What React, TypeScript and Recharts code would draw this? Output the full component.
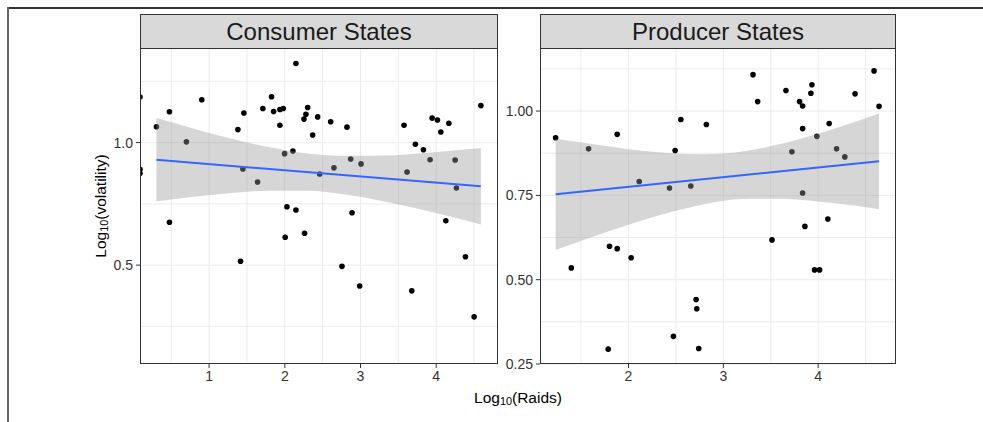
import {
  Area,
  CartesianGrid,
  ComposedChart,
  Line,
  Scatter,
  XAxis,
  YAxis,
} from 'recharts'

// Consumer States panel
const consumerX = [
  0.087, 0.087, 0.087, 0.304, 0.476, 0.7, 0.903, 1.38, 1.459, 1.446, 1.64, 1.71, 1.825, 1.852,
  1.935, 1.979, 1.935, 1.997, 2.107, 2.147, 2.253, 2.279, 2.302, 2.368, 2.434, 2.46, 2.606, 2.649,
  2.821, 2.87, 3.007, 3.575, 3.615, 3.725, 3.831, 3.919, 3.946, 4.016, 4.061, 4.167, 4.25, 4.267,
  4.59, 2.028, 2.147, 0.476, 1.415, 2.005, 2.261, 2.755, 2.888, 2.989, 3.677, 4.127, 4.386, 4.501,
]
const consumerY = [
  1.186, 0.891, 0.875, 1.065, 1.126, 1.003, 1.175, 1.053, 1.121, 0.892, 0.839, 1.139, 1.187, 1.127,
  1.135, 1.139, 1.071, 0.955, 0.966, 1.323, 1.096, 1.116, 1.143, 1.031, 1.105, 0.872, 1.085, 0.897,
  1.063, 0.933, 0.913, 1.071, 0.88, 0.993, 0.971, 0.93, 1.1, 1.092, 1.043, 1.079, 0.929, 0.815,
  1.151, 0.738, 0.725, 0.675, 0.516, 0.614, 0.63, 0.495, 0.714, 0.415, 0.395, 0.681, 0.534, 0.289,
]
const consumerFitX = [0.304, 4.59]
const consumerFitY = [0.93, 0.822]
const consumerBandX = [0.304, 0.8, 1.3, 1.8, 2.3, 2.8, 3.3, 3.8, 4.3, 4.59]
const consumerBandHi = [1.1, 1.057, 1.016, 0.981, 0.956, 0.946, 0.947, 0.957, 0.97, 0.978]
const consumerBandLo = [0.76, 0.779, 0.794, 0.804, 0.804, 0.788, 0.761, 0.727, 0.689, 0.666]

// Producer States panel
const producerX = [
  1.232, 1.579, 1.881, 2.113, 2.432, 2.492, 2.552, 2.657, 2.821, 3.313, 3.362, 3.66, 3.723, 3.804,
  3.836, 3.836, 3.836, 3.923, 3.934, 3.986, 4.116, 4.194, 4.281, 4.389, 4.589, 4.642, 1.397, 1.8,
  1.881, 2.028, 1.786, 2.474, 2.713, 2.72, 2.741, 3.513, 3.86, 4.102, 3.962, 4.015,
]
const producerY = [
  0.921, 0.888, 0.931, 0.791, 0.772, 0.883, 0.975, 0.778, 0.96, 1.108, 1.028, 1.061, 0.879, 1.028,
  1.015, 0.948, 0.757, 1.053, 1.078, 0.925, 0.963, 0.888, 0.864, 1.051, 1.119, 1.014, 0.535, 0.599,
  0.592, 0.565, 0.294, 0.332, 0.441, 0.414, 0.296, 0.618, 0.658, 0.68, 0.529, 0.529,
]
const producerFitX = [1.232, 4.642]
const producerFitY = [0.753, 0.851]
const producerBandX = [1.232, 1.6, 2.0, 2.4, 2.8, 3.2, 3.6, 4.0, 4.4, 4.642]
const producerBandHi = [0.918, 0.903, 0.887, 0.876, 0.872, 0.88, 0.902, 0.933, 0.969, 0.993]
const producerBandLo = [0.588, 0.625, 0.663, 0.697, 0.724, 0.739, 0.74, 0.732, 0.719, 0.709]

const consumerXTicks = [1, 2, 3, 4]
const consumerYTicks = [0.5, 1.0]
const consumerXGrid = [0.5, 1, 1.5, 2, 2.5, 3, 3.5, 4, 4.5]
const consumerYGrid = [0.25, 0.5, 0.75, 1.0, 1.25]
const producerXTicks = [2, 3, 4]
const producerYTicks = [0.25, 0.5, 0.75, 1.0]
const producerXGrid = [1.5, 2, 2.5, 3, 3.5, 4, 4.5]
const producerYGrid = [0.25, 0.375, 0.5, 0.625, 0.75, 0.875, 1.0, 1.125]

const FONT = '"Liberation Sans", Arial, Helvetica, sans-serif'

type PanelProps = {
  left: number
  width: number
  marginLeft: number
  marginRight: number
  xs: number[]
  ys: number[]
  fitX: number[]
  fitY: number[]
  bandX: number[]
  bandHi: number[]
  bandLo: number[]
  xDomain: [number, number]
  yDomain: [number, number]
  xTicks: number[]
  yTicks: number[]
  xGrid: number[]
  yGrid: number[]
  yFormat: (v: number) => string
}

function Dot(props: any) {
  if (props.cx == null || props.cy == null) return null
  return <circle cx={props.cx} cy={props.cy} r={2.8} fill="#000" />
}

function Panel(p: PanelProps) {
  const points = p.xs.map((x, i) => ({ x, y: p.ys[i] }))
  const fit = p.fitX.map((x, i) => ({ x, y: p.fitY[i] }))
  const band = p.bandX.map((x, i) => ({ x, band: [p.bandLo[i], p.bandHi[i]] }))
  return (
    <div style={{ position: 'absolute', left: p.left, top: 0 }}>
      <ComposedChart
        width={p.width}
        height={422}
        margin={{ top: 49, right: p.marginRight, bottom: 28, left: p.marginLeft }}
      >
        <CartesianGrid
          stroke="#ebebeb"
          strokeWidth={1}
          horizontalValues={p.yGrid}
          verticalValues={p.xGrid}
        />
        <XAxis
          type="number"
          dataKey="x"
          domain={p.xDomain}
          allowDataOverflow
          ticks={p.xTicks}
          height={30}
          axisLine={false}
          tickSize={4}
          tickMargin={3}
          tickLine={{ stroke: '#333' }}
          tick={{ fontSize: 14, fill: '#333' }}
        />
        <YAxis
          type="number"
          dataKey="y"
          domain={p.yDomain}
          allowDataOverflow
          ticks={p.yTicks}
          width={40}
          axisLine={false}
          tickSize={4}
          tickMargin={3}
          tickLine={{ stroke: '#333' }}
          tick={{ fontSize: 14, fill: '#333' }}
          tickFormatter={p.yFormat}
        />
        <Scatter data={points} shape={<Dot />} isAnimationActive={false} />
        <Area
          data={band}
          dataKey="band"
          type="monotone"
          stroke="none"
          fill="#999999"
          fillOpacity={0.4}
          isAnimationActive={false}
          zIndex={650}
        />
        <Line
          data={fit}
          dataKey="y"
          stroke="#3366ff"
          strokeWidth={2}
          dot={false}
          activeDot={false}
          isAnimationActive={false}
          zIndex={700}
        />
      </ComposedChart>
    </div>
  )
}

const stripStyle: React.CSSProperties = {
  position: 'absolute',
  top: 14,
  height: 35,
  boxSizing: 'border-box',
  background: '#d9d9d9',
  border: '1px solid #333',
  fontSize: 24,
  color: '#1a1a1a',
  display: 'flex',
  alignItems: 'center',
  justifyContent: 'center',
}

const borderStyle: React.CSSProperties = {
  position: 'absolute',
  top: 48,
  height: 316,
  boxSizing: 'border-box',
  border: '1px solid #333',
  pointerEvents: 'none',
}

export default function App() {
  return (
    <div
      style={{
        position: 'absolute',
        left: 0,
        top: 0,
        width: 983,
        height: 422,
        background: '#fff',
        fontFamily: FONT,
        overflow: 'hidden',
      }}
    >
      <div style={{ position: 'absolute', left: 7, top: 7, width: 976, height: 2, background: '#333' }} />
      <div style={{ position: 'absolute', left: 7, top: 7, width: 2, height: 415, background: '#666' }} />

      <Panel
        left={0}
        width={500}
        marginLeft={100}
        marginRight={3}
        xs={consumerX}
        ys={consumerY}
        fitX={consumerFitX}
        fitY={consumerFitY}
        bandX={consumerBandX}
        bandHi={consumerBandHi}
        bandLo={consumerBandLo}
        xDomain={[0.087, 4.803]}
        yDomain={[0.0965, 1.382]}
        xTicks={consumerXTicks}
        yTicks={consumerYTicks}
        xGrid={consumerXGrid}
        yGrid={consumerYGrid}
        yFormat={(v) => v.toFixed(1)}
      />
      <Panel
        left={480}
        width={420}
        marginLeft={20}
        marginRight={5}
        xs={producerX}
        ys={producerY}
        fitX={producerFitX}
        fitY={producerFitY}
        bandX={producerBandX}
        bandHi={producerBandHi}
        bandLo={producerBandLo}
        xDomain={[1.067, 4.81]}
        yDomain={[0.25, 1.184]}
        xTicks={producerXTicks}
        yTicks={producerYTicks}
        xGrid={producerXGrid}
        yGrid={producerYGrid}
        yFormat={(v) => v.toFixed(2)}
      />

      <div style={{ ...borderStyle, left: 140, width: 358 }} />
      <div style={{ ...borderStyle, left: 540, width: 356 }} />
      <div style={{ ...stripStyle, left: 140, width: 358 }}>Consumer States</div>
      <div style={{ ...stripStyle, left: 540, width: 356 }}>Producer States</div>

      <div
        style={{
          position: 'absolute',
          left: 518,
          top: 398,
          transform: 'translate(-50%, -50%)',
          fontSize: 15.5,
          color: '#000',
          whiteSpace: 'nowrap',
        }}
      >
        Log<span style={{ fontSize: '0.7em', verticalAlign: '-0.25em' }}>10</span>(Raids)
      </div>
      <div
        style={{
          position: 'absolute',
          left: 101,
          top: 206,
          transform: 'translate(-50%, -50%) rotate(-90deg)',
          fontSize: 15.5,
          color: '#000',
          whiteSpace: 'nowrap',
        }}
      >
        Log<span style={{ fontSize: '0.7em', verticalAlign: '-0.25em' }}>10</span>(volatility)
      </div>
    </div>
  )
}
